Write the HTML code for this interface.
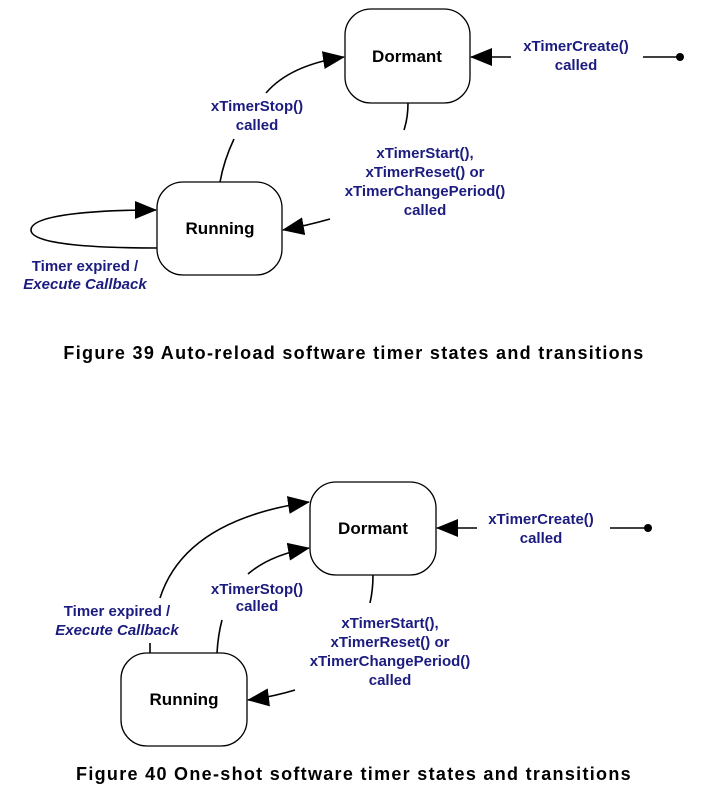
<!DOCTYPE html>
<html><head><meta charset="utf-8"><style>
html,body{margin:0;padding:0;background:#fff;}
svg{display:block;}
.l{font-family:"Liberation Sans",sans-serif;font-weight:bold;font-size:15px;fill:#1c1c80;text-anchor:middle;}
.s{font-family:"Liberation Sans",sans-serif;font-weight:bold;font-size:17px;fill:#000;text-anchor:middle;}
.c{font-family:"Liberation Sans",sans-serif;font-weight:bold;font-size:18px;fill:#000;text-anchor:middle;letter-spacing:1.3px;}
.ln{fill:none;stroke:#000;stroke-width:1.6;}
</style></head><body>
<svg width="705" height="802" viewBox="0 0 705 802">
<defs>
<marker id="b" markerWidth="22" markerHeight="18" refX="21" refY="9" orient="auto" markerUnits="userSpaceOnUse"><path d="M0,0 L22,9 L0,18 z" fill="#000"/></marker></defs>

<!-- Figure 39 -->
<rect x="345" y="9" width="125" height="94" rx="26" class="ln" style="stroke-width:1.3"/>
<text x="407" y="62" class="s">Dormant</text>
<rect x="157" y="182" width="125" height="93" rx="26" class="ln" style="stroke-width:1.3"/>
<text x="220" y="234" class="s">Running</text>

<path d="M266,93 Q290,65 344,57" class="ln" marker-end="url(#b)"/>
<path d="M234,139 Q224,160 220,182" class="ln"/>
<text x="257" y="111" class="l">xTimerStop()</text>
<text x="257" y="130" class="l">called</text>

<line x1="511" y1="57" x2="471" y2="57" class="ln" marker-end="url(#b)"/>
<text x="576" y="51" class="l">xTimerCreate()</text>
<text x="576" y="70" class="l">called</text>
<line x1="643" y1="57" x2="680" y2="57" class="ln"/>
<circle cx="680" cy="57" r="4" fill="#000"/>

<path d="M408,103 Q408,118 404,130" class="ln"/>
<text x="425" y="158" class="l">xTimerStart(),</text>
<text x="425" y="177" class="l">xTimerReset() or</text>
<text x="425" y="196" class="l">xTimerChangePeriod()</text>
<text x="425" y="215" class="l">called</text>
<path d="M330,219 Q305,226 283,230" class="ln" marker-end="url(#b)"/>

<path d="M157,248 C100,248 31,245 31,230 C31,214 100,210 156,210" class="ln" marker-end="url(#b)"/>
<text x="85" y="271" class="l">Timer expired /</text>
<text x="85" y="289" class="l" style="font-style:italic">Execute Callback</text>

<text x="354" y="359" class="c">Figure 39 Auto-reload software timer states and transitions</text>

<!-- Figure 40 -->
<rect x="310" y="482" width="126" height="93" rx="26" class="ln" style="stroke-width:1.3"/>
<text x="373" y="534" class="s">Dormant</text>
<rect x="121" y="653" width="126" height="93" rx="26" class="ln" style="stroke-width:1.3"/>
<text x="184" y="705" class="s">Running</text>

<path d="M160,598 Q185,520 309,502" class="ln" marker-end="url(#b)"/>
<line x1="150" y1="643" x2="150" y2="653" class="ln"/>
<text x="117" y="616" class="l">Timer expired /</text>
<text x="117" y="635" class="l" style="font-style:italic">Execute Callback</text>

<path d="M248,574 Q270,555 309,548" class="ln" marker-end="url(#b)"/>
<path d="M222,620 Q218,635 217,653" class="ln"/>
<text x="257" y="594" class="l">xTimerStop()</text>
<text x="257" y="611" class="l">called</text>

<line x1="477" y1="528" x2="437" y2="528" class="ln" marker-end="url(#b)"/>
<text x="541" y="524" class="l">xTimerCreate()</text>
<text x="541" y="543" class="l">called</text>
<line x1="610" y1="528" x2="648" y2="528" class="ln"/>
<circle cx="648" cy="528" r="4" fill="#000"/>

<path d="M373,575 Q373,590 370,603" class="ln"/>
<text x="390" y="628" class="l">xTimerStart(),</text>
<text x="390" y="647" class="l">xTimerReset() or</text>
<text x="390" y="666" class="l">xTimerChangePeriod()</text>
<text x="390" y="685" class="l">called</text>
<path d="M295,690 Q272,697 248,700" class="ln" marker-end="url(#b)"/>

<text x="354" y="780" class="c">Figure 40 One-shot software timer states and transitions</text>
</svg>
</body></html>
